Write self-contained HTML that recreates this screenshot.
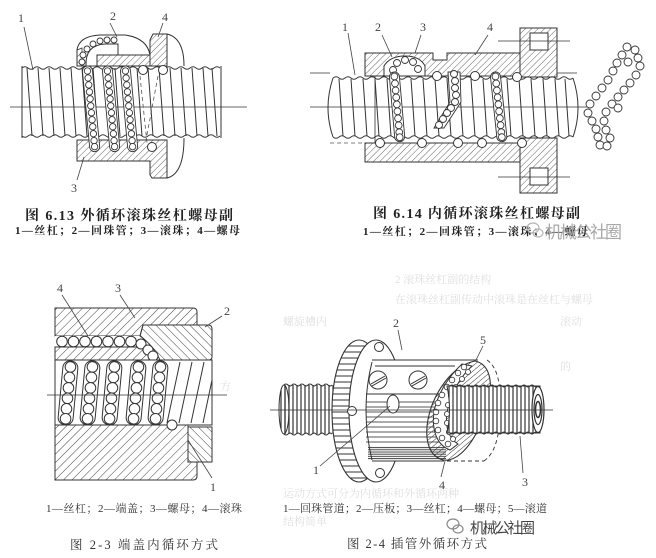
<!DOCTYPE html>
<html><head><meta charset="utf-8"><style>
html,body{margin:0;padding:0;background:#fff;}
svg{display:block;}
.t{font-family:"Liberation Serif","Noto Serif CJK SC",serif;}
</style></head><body>
<svg width="656" height="558" viewBox="0 0 656 558" xmlns="http://www.w3.org/2000/svg">
<defs>
<pattern id="hA" width="4.5" height="4.5" patternUnits="userSpaceOnUse" patternTransform="rotate(45)"><line x1="0" y1="0" x2="0" y2="4.5" stroke="#555" stroke-width="0.9"/></pattern>
<pattern id="hC" width="6" height="6" patternUnits="userSpaceOnUse" patternTransform="rotate(45)"><line x1="0" y1="0" x2="0" y2="6" stroke="#444" stroke-width="1"/></pattern>
<pattern id="hD" width="6" height="6" patternUnits="userSpaceOnUse" patternTransform="rotate(-45)"><line x1="0" y1="0" x2="0" y2="6" stroke="#444" stroke-width="1"/></pattern>
<pattern id="hE" width="4" height="4" patternUnits="userSpaceOnUse" patternTransform="rotate(50)"><line x1="0" y1="0" x2="0" y2="4" stroke="#333" stroke-width="1"/></pattern>
<pattern id="vl" width="4" height="10" patternUnits="userSpaceOnUse"><line x1="1" y1="0" x2="1" y2="10" stroke="#333" stroke-width="1.2"/></pattern>
<pattern id="hl" width="10" height="5" patternUnits="userSpaceOnUse"><line x1="0" y1="2" x2="10" y2="2" stroke="#444" stroke-width="0.9"/></pattern>
<pattern id="hl2" width="10" height="2.2" patternUnits="userSpaceOnUse"><line x1="0" y1="1" x2="10" y2="1" stroke="#333" stroke-width="0.9"/></pattern>
<g id="c1" fill="#fff" stroke="#333" stroke-width="0.9">
<rect x="-5" y="0" width="10" height="86" rx="5"/>
<circle cx="0" cy="5" r="3.2"/><circle cx="0" cy="12" r="3.2"/><circle cx="0" cy="19" r="3.2"/><circle cx="0" cy="26" r="3.2"/><circle cx="0" cy="33" r="3.2"/><circle cx="0" cy="40" r="3.2"/><circle cx="0" cy="47" r="3.2"/><circle cx="0" cy="54" r="3.2"/><circle cx="0" cy="61" r="3.2"/><circle cx="0" cy="68" r="3.2"/><circle cx="0" cy="75" r="3.2"/><circle cx="0" cy="81" r="3.2"/>
</g>
<g id="c2" fill="#fff" stroke="#333" stroke-width="0.9">
<rect x="-5" y="0" width="10" height="70" rx="5"/>
<circle cx="0" cy="4.5" r="3.4"/><circle cx="0" cy="11.5" r="3.4"/><circle cx="0" cy="18.5" r="3.4"/><circle cx="0" cy="25.5" r="3.4"/><circle cx="0" cy="32.5" r="3.4"/><circle cx="0" cy="39.5" r="3.4"/><circle cx="0" cy="46.5" r="3.4"/><circle cx="0" cy="53.5" r="3.4"/><circle cx="0" cy="60.5" r="3.4"/><circle cx="0" cy="65.5" r="3.4"/>
</g>
<g id="c3" fill="#fff" stroke="#333" stroke-width="1">
<rect x="-7.5" y="0" width="15" height="64" rx="7"/>
<circle cx="0" cy="6" r="5.3"/><circle cx="0" cy="16.5" r="5.3"/><circle cx="0" cy="27" r="5.3"/><circle cx="0" cy="37.5" r="5.3"/><circle cx="0" cy="48" r="5.3"/><circle cx="0" cy="58" r="5.3"/>
</g>
<clipPath id="rimclip"><ellipse cx="359" cy="411" rx="27" ry="71"/></clipPath>
</defs>

<!-- faint bleed-through text -->
<g class="t" fill="#e0e0e0" font-size="11">
<text x="395" y="283">2  滚珠丝杠副的结构</text>
<text x="395" y="303">在滚珠丝杠副传动中滚珠是在丝杠与螺母</text>
<text x="283" y="325">螺旋槽内</text>
<text x="560" y="325">滚动</text>
<text x="560" y="370">的</text>
<text x="220" y="390">方</text>
<text x="283" y="497">运动方式可分为内循环和外循环两种</text>
<text x="283" y="525">结构简单</text>
</g>

<!-- ================= FIGURE 1 ================= -->
<g fill="none" stroke="#333" stroke-width="1">
<path d="M22,68 q3,-2.5 6,0 t6,0 t6,0 t6,0 t6,0 t6,0 t6,0 t6,0 t6,0 t6,0 t6,0 t6,0 t6,0 t6,0 t6,0 t6,0 t6,0 t6,0 t6,0 t6,0 t6,0 t6,0 t6,0 t6,0 t6,0 t6,0 t6,0 t6,0 t6,0 t6,0 t6,0 t6,0 t6,0"/>
<path d="M22,136 q3,2.5 6,0 t6,0 t6,0 t6,0 t6,0 t6,0 t6,0 t6,0 t6,0 t6,0 t6,0 t6,0 t6,0 t6,0 t6,0 t6,0 t6,0 t6,0 t6,0 t6,0 t6,0 t6,0 t6,0 t6,0 t6,0 t6,0 t6,0 t6,0 t6,0 t6,0 t6,0 t6,0 t6,0"/>
<line x1="22" y1="66" x2="22" y2="138"/><line x1="221" y1="66" x2="221" y2="138"/>
<path d="M27,68l5,68M38,68l5,68M49,68l5,68M60,68l5,68M71,68l5,68M82,68l5,68M93,68l5,68M104,68l5,68M115,68l5,68M126,68l5,68M137,68l5,68M148,68l5,68M159,68l5,68M170,68l5,68M181,68l5,68M192,68l5,68M203,68l5,68M212,68l5,68"/>
</g>
<line x1="10" y1="107" x2="247" y2="107" stroke="#333" stroke-width="0.8"/>
<!-- nut fig1 -->
<path d="M77,66 L77,50 Q79,36 100,35 L125,35 Q147,38 150,55 L150,66 Z" fill="#fff" stroke="#333"/>
<path d="M97,55 L150,55 L150,40 L153,34 L167,34 L167,66 L97,66 Z" fill="url(#hA)" stroke="#333"/>
<path d="M77,50 L82,48 L82,66 L77,66 Z" fill="url(#hA)" stroke="#333" stroke-width="0.8"/>
<path d="M167,34 Q184,38 184,66" fill="none" stroke="#333"/>
<path d="M77,140 L167,140 L167,178 L152,178 L150,175 L150,161 L77,161 Z" fill="url(#hA)" stroke="#333"/>
<path d="M167,178 Q184,174 184,138" fill="none" stroke="#333"/>
<path d="M86,66 Q85,45 105,44 L118,44 L118,55" fill="none" stroke="#333"/>
<g fill="#fff" stroke="#333" stroke-width="0.9">
<circle cx="82" cy="62" r="3"/><circle cx="83" cy="55" r="3"/><circle cx="87" cy="49" r="3"/><circle cx="93" cy="44" r="3"/><circle cx="100" cy="41" r="3"/><circle cx="107" cy="40" r="3"/><circle cx="114" cy="40" r="3"/>
</g>
<use href="#c1" transform="translate(87,66) rotate(-5.4)"/>
<use href="#c1" transform="translate(107,66) rotate(-5.4)"/>
<use href="#c1" transform="translate(125,66) rotate(-5.4)"/>
<g fill="#fff" stroke="#333" stroke-width="1">
<circle cx="143" cy="70" r="4.5"/><circle cx="163" cy="70" r="4.5"/><circle cx="152" cy="147" r="4.5"/>
</g>
<path d="M140,76 L147,143 M158,76 L146,140" stroke="#555" stroke-width="0.8" stroke-dasharray="4,3" fill="none"/>
<!-- labels fig1 -->
<g stroke="#444" stroke-width="0.8" fill="none">
<path d="M24,27 L33,70 M110,23 L117,37 M163,23 L158,37 M77,180 L84,157"/>
</g>
<g class="t" font-size="12" fill="#444">
<text x="18" y="22">1</text><text x="110" y="20">2</text><text x="162" y="21">4</text><text x="71" y="192">3</text>
</g>

<!-- ================= FIGURE 2 ================= -->
<g fill="none" stroke="#333" stroke-width="1">
<path d="M333,78 q3,-2.5 6,0 t6,0 t6,0 t6,0 t6,0 t6,0 t6,0 t6,0 t6,0 t6,0 t6,0 t6,0 t6,0 t6,0 t6,0 t6,0 t6,0 t6,0 t6,0 t6,0 t6,0 t6,0 t6,0 t6,0 t6,0 t6,0 t6,0 t6,0 t6,0 t6,0 t6,0 t6,0 t6,0 t6,0 t6,0 t6,0 t6,0 t6,0 t6,0 t6,0"/>
<path d="M333,137 q3,2.5 6,0 t6,0 t6,0 t6,0 t6,0 t6,0 t6,0 t6,0 t6,0 t6,0 t6,0 t6,0 t6,0 t6,0 t6,0 t6,0 t6,0 t6,0 t6,0 t6,0 t6,0 t6,0 t6,0 t6,0 t6,0 t6,0 t6,0 t6,0 t6,0 t6,0 t6,0 t6,0 t6,0 t6,0 t6,0 t6,0 t6,0 t6,0 t6,0 t6,0"/>
<path d="M333,78 Q323,108 333,137 M573,78 Q583,108 573,137"/>
<path d="M339,79l4,57M351,79l4,57M363,79l4,57M375,79l4,57M387,79l4,57M399,79l4,57M411,79l4,57M423,79l4,57M435,79l4,57M447,79l4,57M459,79l4,57M471,79l4,57M483,79l4,57M495,79l4,57M507,79l4,57M519,79l4,57M531,79l4,57M543,79l4,57M555,79l4,57M565,79l4,57"/>
</g>
<path d="M330,143 L365,143" stroke="#555" stroke-dasharray="4,3" stroke-width="0.8"/>
<line x1="310" y1="107" x2="587" y2="107" stroke="#333" stroke-width="0.8"/>
<line x1="310" y1="73" x2="330" y2="73" stroke="#333" stroke-width="0.8"/>
<line x1="557" y1="73" x2="577" y2="73" stroke="#333" stroke-width="0.8"/>
<!-- nut fig2 -->
<path d="M365,53 L433,53 L433,60 L447,60 L447,53 L520,53 L520,76 L365,76 Z" fill="url(#hA)" stroke="#333"/>
<path d="M384,76 L384,66 Q390,56 405,56 Q420,56 425,66 L425,76 Z" fill="#fff" stroke="#333"/>
<path d="M365,143 L520,143 L520,162 L365,162 Z" fill="url(#hA)" stroke="#333"/>
<path d="M365,76 L375,76 L375,143 L365,143" fill="none" stroke="#333" stroke-width="0.8"/>
<rect x="520" y="28" width="37" height="49" fill="url(#hA)" stroke="#333"/>
<rect x="520" y="138" width="37" height="55" fill="url(#hA)" stroke="#333"/>
<rect x="530" y="33" width="18" height="17" fill="#fff" stroke="#333"/>
<rect x="530" y="168" width="18" height="17" fill="#fff" stroke="#333"/>
<path d="M498,41 L570,41 M498,177 L570,177" stroke="#333" stroke-width="0.8"/>
<g fill="#fff" stroke="#333" stroke-width="0.9">
<circle cx="393" cy="70" r="3.5"/><circle cx="397" cy="63" r="3.5"/><circle cx="405" cy="60" r="3.5"/><circle cx="413" cy="62" r="3.5"/><circle cx="418" cy="69" r="3.5"/>
</g>
<use href="#c2" transform="translate(394,72) rotate(-5)"/>
<use href="#c2" transform="translate(495,72) rotate(-6)"/>
<g fill="#fff" stroke="#333" stroke-width="0.9">
<path d="M448,72 L460,72 L461,102 L444,128 L434,128 L450,102 Z"/>
<circle cx="454" cy="74" r="3.5"/><circle cx="455" cy="81" r="3.5"/><circle cx="455" cy="88" r="3.5"/><circle cx="456" cy="95" r="3.5"/><circle cx="455" cy="102" r="3.5"/><circle cx="451" cy="108" r="3.5"/><circle cx="447" cy="113" r="3.5"/><circle cx="443" cy="119" r="3.5"/><circle cx="439" cy="125" r="3.5"/>
</g>
<g fill="#fff" stroke="#333" stroke-width="1">
<circle cx="437" cy="76" r="4.5"/><circle cx="475" cy="76" r="4.5"/><circle cx="517" cy="77" r="4.5"/>
<circle cx="380" cy="143" r="4.5"/><circle cx="422" cy="143" r="4.5"/><circle cx="458" cy="143" r="4.5"/><circle cx="482" cy="143" r="4.5"/><circle cx="522" cy="143" r="4.5"/>
</g>
<!-- ball chain -->
<g fill="#fff" stroke="#333" stroke-width="0.9">
<circle cx="627" cy="47" r="4"/><circle cx="622" cy="55" r="4"/><circle cx="617" cy="63" r="4"/><circle cx="613" cy="71" r="4"/><circle cx="608" cy="80" r="4"/><circle cx="602" cy="88" r="4"/><circle cx="596" cy="96" r="4"/><circle cx="590" cy="104" r="4"/><circle cx="588" cy="113" r="4"/><circle cx="592" cy="121" r="4"/><circle cx="596" cy="129" r="4"/><circle cx="598" cy="137" r="4"/><circle cx="600" cy="145" r="4"/>
<circle cx="635" cy="50" r="4"/><circle cx="638" cy="58" r="4"/><circle cx="640" cy="66" r="4"/><circle cx="636" cy="75" r="4"/><circle cx="630" cy="83" r="4"/><circle cx="624" cy="90" r="4"/><circle cx="618" cy="97" r="4"/><circle cx="612" cy="104" r="4"/><circle cx="606" cy="112" r="4"/><circle cx="604" cy="121" r="4"/><circle cx="606" cy="130" r="4"/><circle cx="610" cy="138" r="4"/><circle cx="607" cy="146" r="4"/>
<circle cx="628" cy="62" r="4"/><circle cx="618" cy="108" r="4"/>
</g>
<g stroke="#444" stroke-width="0.8" fill="none">
<path d="M348,33 L355,75 M382,35 L392,57 M421,35 L415,53 M488,35 L475,55"/>
</g>
<g class="t" font-size="12" fill="#444">
<text x="342" y="31">1</text><text x="375" y="31">2</text><text x="420" y="31">3</text><text x="487" y="31">4</text>
</g>

<!-- ================= FIGURE 3 ================= -->
<path d="M55,308 L193,308 Q197,308 197,312 L197,325 L143,325 L140,336 L55,336 Z" fill="url(#hC)" stroke="#333"/>
<rect x="55" y="336" width="88" height="11" fill="#fff" stroke="none"/>
<path d="M55,347 L138,347 Q150,352 157,360 L55,360 Z" fill="url(#hC)" stroke="#333"/>
<path d="M143,325 L208,325 Q212,325 212,329 L212,357 Q212,360 208,360 L160,360 Q153,345 140,336 Z" fill="url(#hD)" stroke="#333"/>
<g fill="#fff" stroke="#333" stroke-width="1">
<circle cx="62" cy="341.5" r="5.3"/><circle cx="73.5" cy="341.5" r="5.3"/><circle cx="85" cy="341.5" r="5.3"/><circle cx="96.5" cy="341.5" r="5.3"/><circle cx="108" cy="341.5" r="5.3"/><circle cx="119.5" cy="341.5" r="5.3"/><circle cx="131" cy="341.5" r="5.3"/><circle cx="141" cy="344" r="5"/><circle cx="148" cy="350" r="5"/><circle cx="153" cy="356" r="5"/>
</g>
<rect x="55" y="360" width="157" height="65" fill="#fff" stroke="#333"/>
<path d="M167,423 L180,362 M179,423 L192,362 M191,423 L204,362 M203,423 L212,380" stroke="#333" fill="none"/>
<use href="#c3" transform="translate(71,361) rotate(5.4)"/>
<use href="#c3" transform="translate(93,361) rotate(5.4)"/>
<use href="#c3" transform="translate(115,361) rotate(5.4)"/>
<use href="#c3" transform="translate(139,361) rotate(5.4)"/>
<use href="#c3" transform="translate(161,361) rotate(5.4)"/>
<path d="M55,425 L188,425 L188,462 L197,462 L197,476 Q197,480 193,480 L55,480 Z" fill="url(#hC)" stroke="#333"/>
<rect x="188" y="427" width="24" height="35" fill="url(#hD)" stroke="#333"/>
<circle cx="172" cy="425" r="5" fill="#fff" stroke="#333"/>
<line x1="47" y1="395" x2="227" y2="395" stroke="#333" stroke-width="0.8"/>
<g stroke="#444" stroke-width="0.8" fill="none">
<path d="M62,295 L88,336 M120,295 L135,318 M222,316 L205,327 M212,478 L188,440"/>
</g>
<g class="t" font-size="12" fill="#444">
<text x="57" y="292">4</text><text x="115" y="292">3</text><text x="224" y="315">2</text><text x="210" y="491">1</text>
</g>

<!-- ================= FIGURE 4 ================= -->
<!-- left screw -->
<rect x="284" y="385" width="50" height="49" fill="url(#vl)"/>
<ellipse cx="284" cy="409.5" rx="5" ry="24.5" fill="url(#vl)" stroke="#333"/>
<path d="M284,385 q2,-2 4,0 t4,0 t4,0 t4,0 t4,0 t4,0 t4,0 t4,0 t4,0 t4,0 t4,0 t4,0 M284,434 q2,2 4,0 t4,0 t4,0 t4,0 t4,0 t4,0 t4,0 t4,0 t4,0 t4,0 t4,0 t4,0" fill="none" stroke="#333"/>
<!-- flange -->
<ellipse cx="359" cy="411" rx="27" ry="71" fill="#fff" stroke="#333" stroke-width="1.1"/>
<g clip-path="url(#rimclip)" stroke="#333" stroke-width="1">
<path d="M328,346H370M328,352H370M328,358H370M328,364H370M328,370H370M328,376H370M328,382H370M328,388H370M328,394H370M328,400H370M328,406H370M328,412H370M328,418H370M328,424H370M328,430H370M328,436H370M328,442H370M328,448H370M328,454H370M328,460H370M328,466H370M328,472H370M328,478H370"/>
</g>
<ellipse cx="376" cy="411" rx="27" ry="71" fill="#fff" stroke="#333" stroke-width="1.1"/>
<g fill="#fff" stroke="#333" stroke-width="1">
<circle cx="379" cy="347" r="4.5"/><circle cx="352" cy="411" r="4.5"/><circle cx="380" cy="473" r="4.5"/>
</g>
<!-- nut body -->
<path d="M372,360 L478,360 L478,461 L372,461 Q360,410 372,360 Z" fill="#fff" stroke="none"/>
<rect x="366" y="398" width="80" height="48" fill="url(#hl)"/>
<rect x="368" y="446" width="78" height="14" fill="url(#hl2)"/>
<path d="M372,360 L478,360 M372,461 L440,461 M372,362 Q360,410 372,460" fill="none" stroke="#333"/>
<path d="M440,461 L484,461" stroke="#333" stroke-dasharray="4,3" stroke-width="0.9"/>
<path d="M487,360 Q502,370 500,410 Q500,450 484,461" fill="none" stroke="#333" stroke-dasharray="4,3" stroke-width="0.9"/>
<path d="M375,366 L455,366 M366,394 L455,394" stroke="#333" fill="none"/>
<g fill="#fff" stroke="#333" stroke-width="1">
<circle cx="378" cy="380" r="9"/><circle cx="418" cy="380" r="9"/>
</g>
<path d="M371,384 L385,376 M372,386 L386,378 M411,384 L425,376 M412,386 L426,378" stroke="#333"/>
<ellipse cx="393" cy="404" rx="6" ry="9" fill="#fff" stroke="#333"/>
<!-- section 4 -->
<path d="M475,361 C496,365 494,400 478,430 C468,450 455,462 443,460 C425,455 423,430 432,405 C440,385 455,365 475,361 Z" fill="url(#hE)" stroke="#333" stroke-width="1.1"/>
<path d="M462,364 C445,380 430,405 434,428 C436,440 442,447 450,450 L458,444 C448,438 444,425 448,408 C452,390 463,374 472,366 Z" fill="#fff" stroke="#333"/>
<g fill="#fff" stroke="#333" stroke-width="0.8">
<circle cx="464" cy="367" r="2.8"/><circle cx="458" cy="373" r="2.8"/><circle cx="452" cy="380" r="2.8"/><circle cx="447" cy="387" r="2.8"/><circle cx="442" cy="395" r="2.8"/><circle cx="438" cy="403" r="2.8"/><circle cx="436" cy="412" r="2.8"/><circle cx="436" cy="421" r="2.8"/><circle cx="438" cy="430" r="2.8"/><circle cx="442" cy="438" r="2.8"/><circle cx="448" cy="444" r="2.8"/>
<circle cx="468" cy="372" r="2.6"/><circle cx="462" cy="379" r="2.6"/><circle cx="456" cy="387" r="2.6"/><circle cx="451" cy="396" r="2.6"/><circle cx="448" cy="405" r="2.6"/><circle cx="447" cy="414" r="2.6"/><circle cx="447" cy="423" r="2.6"/><circle cx="449" cy="432" r="2.6"/><circle cx="453" cy="439" r="2.6"/>
</g>
<!-- right screw -->
<path d="M447,386 L540,386 L540,433 L447,433 Q452,410 447,386 Z" fill="#fff" stroke="none"/>
<path d="M447,386 L540,386 L540,433 L447,433 Q452,410 447,386 Z" fill="url(#vl)" stroke="#333"/>
<path d="M450,386 q2,-2 4,0 t4,0 t4,0 t4,0 t4,0 t4,0 t4,0 t4,0 t4,0 t4,0 t4,0 t4,0 t4,0 t4,0 t4,0 t4,0 t4,0 t4,0 t4,0 t4,0 t4,0 t4,0 M450,433 q2,2 4,0 t4,0 t4,0 t4,0 t4,0 t4,0 t4,0 t4,0 t4,0 t4,0 t4,0 t4,0 t4,0 t4,0 t4,0 t4,0 t4,0 t4,0 t4,0 t4,0 t4,0 t4,0" fill="none" stroke="#333"/>
<ellipse cx="538" cy="409.5" rx="6" ry="23" fill="#fff" stroke="#333" stroke-width="1.2"/>
<ellipse cx="538" cy="409.5" rx="4" ry="15" fill="none" stroke="#333" stroke-width="1.2"/>
<ellipse cx="538" cy="409.5" rx="2.5" ry="8" fill="none" stroke="#333" stroke-width="1.5"/>
<line x1="270" y1="410" x2="553" y2="410" stroke="#333" stroke-width="0.8"/>
<g stroke="#444" stroke-width="0.8" fill="none">
<path d="M398,330 L402,350 M483,346 L476,360 M320,466 L390,406 M441,477 L445,461 M523,473 L520,436"/>
</g>
<g class="t" font-size="12" fill="#444">
<text x="393" y="327">2</text><text x="480" y="344">5</text><text x="313" y="474">1</text><text x="439" y="489">4</text><text x="522" y="486">3</text>
</g>

<!-- ================= CAPTIONS ================= -->
<g class="t" fill="#222">
<text x="25" y="220" font-size="14" font-weight="bold" textLength="208" lengthAdjust="spacing">图 6.13  外循环滚珠丝杠螺母副</text>
<text x="15" y="234" font-size="11" font-weight="bold" textLength="225" lengthAdjust="spacing">1—丝杠；2—回珠管；3—滚珠；4—螺母</text>
<text x="373" y="218" font-size="14" font-weight="bold" textLength="207" lengthAdjust="spacing">图 6.14  内循环滚珠丝杠螺母副</text>
<text x="363" y="235" font-size="11" font-weight="bold" textLength="225" lengthAdjust="spacing">1—丝杠；2—回珠管；3—滚珠；4—螺母</text>
</g>
<g class="t" fill="#333">
<text x="46" y="512" font-size="11" textLength="196" lengthAdjust="spacing">1—丝杠；2—端盖；3—螺母；4—滚珠</text>
<text x="70" y="549" font-size="12.5" textLength="148" lengthAdjust="spacing">图 2-3  端盖内循环方式</text>
<text x="283" y="512" font-size="11" textLength="264" lengthAdjust="spacing">1—回珠管道；2—压板；3—丝杠；4—螺母；5—滚道</text>
<text x="347" y="548" font-size="12.5" textLength="140" lengthAdjust="spacing">图 2-4  插管外循环方式</text>
</g>
<!-- watermarks -->
<g fill="none" stroke="#b5b5b5" stroke-width="1.2">
<ellipse cx="533" cy="228" rx="6" ry="5"/><ellipse cx="538" cy="233" rx="5" ry="4"/>
</g>
<text x="545" y="238" font-family="'Noto Sans CJK SC',sans-serif" font-size="17" fill="#a8a8a8" textLength="77" lengthAdjust="spacing">机械公社圈</text>
<g fill="none" stroke="#888" stroke-width="1.2">
<ellipse cx="453" cy="524" rx="6" ry="5"/><ellipse cx="458" cy="529" rx="5" ry="4"/>
</g>
<text x="470" y="533" font-family="'Noto Sans CJK SC',sans-serif" font-size="15" fill="#444" textLength="65" lengthAdjust="spacing">机械公社圈</text>
</svg>
</body></html>
